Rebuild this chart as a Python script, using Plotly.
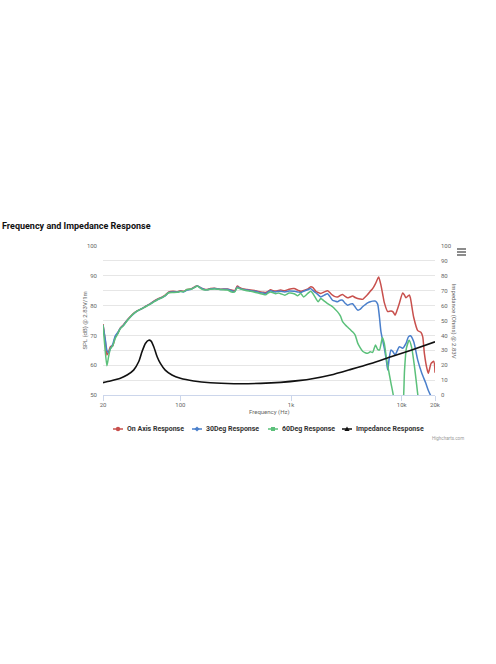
import plotly.graph_objects as go

# ---------------- data ----------------
on_freq = [20, 21, 21.7, 22.5, 23.3, 24.5, 25.8, 27, 28.7, 30.5, 33, 35, 37.8, 41, 45, 49, 53.6, 58, 63.8, 68,
           73, 78.6, 86, 93.6, 100, 107, 115, 125, 135, 142, 152, 162, 175, 187, 205, 230, 266, 290, 310, 327,
           345, 363, 400, 432, 480, 532, 560, 590, 620, 655, 690, 727, 770, 807, 880, 960, 1066, 1150, 1224, 1300,
           1409, 1509, 1580, 1675, 1760, 1858, 2000, 2138, 2250, 2372, 2500, 2636, 2780, 2924, 3080, 3244, 3420,
           3598, 3800, 3998, 4200, 4436, 4680, 4920, 5200, 5466, 5800, 6066, 6200, 6500, 6800, 6966, 7470, 8000,
           8350, 8710, 9100, 9520, 10212, 10600, 10940, 11720, 12000, 12850, 13970, 14960, 15500, 16030, 17000,
           17420, 18440, 19500, 20000]
on_spl = [73.8, 68, 63.4, 64.5, 66.2, 66.5, 69.5, 70.5, 72.5, 73.5, 75.1, 76.2, 77.4, 78.3, 79.0, 79.9, 80.7, 81.6,
          82.4, 82.8, 83.5, 84.6, 84.8, 84.6, 85.0, 84.8, 85.4, 85.6, 86.3, 86.7, 86.0, 85.6, 85.4, 85.7, 85.8,
          85.5, 85.6, 85.2, 85.0, 86.6, 86.0, 85.7, 85.4, 85.2, 85.0, 84.6, 84.5, 84.4, 84.8, 85.3, 85.0, 84.9,
          85.1, 85.2, 85.0, 85.5, 85.7, 85.2, 84.8, 85.1, 85.5, 86.3, 86.0, 84.8, 84.4, 84.1, 84.6, 85.0, 84.3,
          83.5, 83.0, 82.9, 83.4, 83.7, 83.1, 82.6, 82.9, 83.2, 82.7, 82.4, 82.2, 82.1, 82.9, 83.7, 84.8, 85.7,
          87.4, 89.0, 89.6, 86.8, 83.0, 81.0, 78.0, 78.2, 77.9, 76.8, 78.5, 80.7, 84.2, 83.5, 82.6, 83.6, 82.5,
          76.0, 71.6, 71.0, 69.5, 64.0, 58.5, 57.3, 60.6, 61.3, 57.5]

d30_freq = [20, 21, 21.7, 22.5, 23.3, 24.5, 25.8, 27, 28.7, 30.5, 33, 35, 37.8, 41, 45, 49, 53.6, 58, 63.8, 68,
            73, 78.6, 86, 93.6, 100, 107, 115, 125, 135, 142, 152, 162, 175, 187, 205, 230, 266, 290, 310, 327,
            345, 363, 400, 432, 480, 532, 560, 590, 620, 655, 690, 727, 770, 807, 880, 960, 1066, 1150, 1224, 1300,
            1409, 1509, 1580, 1675, 1760, 1858, 2000, 2138, 2250, 2372, 2500, 2636, 2780, 2924, 3080, 3244, 3420,
            3598, 3800, 3998, 4200, 4436, 4680, 4920, 5200, 5466, 5800, 6066, 6300, 6500, 6966, 7300, 7470, 7700,
            8000, 8350, 8710, 9100, 9520, 10212, 10940, 11500, 12000, 12850, 13970, 15200, 16500, 17420, 18440,
            20000]
d30_spl = [73.5, 68.5, 65, 64.2, 65.5, 67, 69.8, 70.8, 72.4, 73.3, 75.0, 76.0, 77.2, 78.2, 79.0, 79.8, 80.6, 81.4,
           82.2, 82.7, 83.3, 84.4, 84.6, 84.5, 84.8, 84.6, 85.2, 85.5, 86.2, 86.6, 86.0, 85.5, 85.3, 85.6, 85.7,
           85.4, 85.5, 85.0, 84.7, 86.2, 85.8, 85.5, 85.2, 85.0, 84.8, 84.3, 84.2, 84.0, 84.6, 85.0, 84.7, 84.6,
           84.8, 84.8, 84.6, 84.9, 84.8, 84.6, 84.4, 84.8, 85.3, 85.7, 85.0, 84.3, 83.6, 82.9, 83.5, 84.0, 83.0,
           81.8, 81.5, 81.3, 81.8, 81.8, 80.8, 80.1, 80.5, 80.6, 79.5, 78.5, 78.7, 79.6, 80.3, 80.9, 81.3, 81.5,
           81.5, 80.5, 76.0, 71.2, 65.7, 61.0, 58.4, 62.0, 65.1, 64.5, 63.4, 64.8, 66.2, 65.7, 67.3, 69.5, 69.9,
           67.9, 61.7, 57.3, 54.0, 51.5, 49.5, 47.0]

d60_freq = [20, 20.8, 21.7, 22.5, 23.3, 24.5, 25.8, 27, 28.7, 30.5, 33, 35, 37.8, 41, 45, 49, 53.6, 58, 63.8, 68,
            73, 78.6, 86, 93.6, 100, 107, 115, 125, 135, 142, 152, 162, 175, 187, 205, 230, 266, 290, 310, 327,
            345, 363, 400, 432, 480, 532, 560, 590, 620, 655, 690, 727, 770, 807, 880, 960, 1066, 1150, 1224, 1300,
            1409, 1509, 1580, 1675, 1760, 1858, 2000, 2138, 2300, 2372, 2500, 2636, 2800, 2924, 3100, 3244, 3598,
            3800, 3998, 4200, 4436, 4680, 4920, 5200, 5466, 5800, 6066, 6300, 6700, 6966, 7300, 7700, 8000, 8350,
            8710, 9400, 10200, 10600, 11000, 11700, 12300, 13000, 13500, 14000, 15000, 20000]
d60_spl = [73.5, 66, 59.8, 63, 65.5, 66.5, 69.0, 70.3, 72.3, 73.2, 74.9, 76.0, 77.3, 78.2, 79.0, 79.7, 80.5, 81.3,
           82.2, 82.6, 83.4, 84.3, 84.4, 84.5, 84.7, 84.7, 85.4, 85.5, 86.1, 86.6, 85.8, 85.3, 85.3, 85.5, 85.6,
           85.4, 85.2, 84.6, 84.6, 86.0, 85.6, 85.4, 85.0, 84.8, 84.4, 84.0, 83.8, 83.6, 84.2, 84.6, 84.3, 84.0,
           84.2, 84.0, 83.5, 84.2, 84.0, 83.3, 84.1, 82.9, 84.0, 84.8, 84.0, 82.4, 81.3, 82.4, 81.5, 80.7, 80.0,
           79.6, 78.8, 77.9, 76.5, 74.6, 73.5, 72.8, 71.2, 70.1, 67.5, 66.0, 64.7, 64.2, 64.0, 64.5, 64.3, 66.8,
           65.3, 65.1, 69.3, 67.3, 62.0, 57.3, 54.0, 50.5, 46.0, 42.0, 45.0, 58.0, 65.5, 68.4, 66.0, 60.0, 55.0,
           50.0, 44.0, 42.0]

imp_freq = [20, 23.3, 28.7, 33, 37.8, 42, 45, 48.3, 51.8, 54.4, 57.5, 61.7, 66, 73, 84, 100, 132, 187, 305, 532,
            807, 1224, 1509, 2290, 3476, 5275, 8000, 12140, 20000]
imp_ohm = [8.3, 9.4, 11.2, 13.4, 16.7, 22.3, 29.0, 34.6, 36.8, 36.2, 32.4, 25.7, 21.2, 16.7, 13.4, 11.2, 9.4, 8.2,
           7.6, 7.8, 8.5, 9.8, 10.7, 13.4, 17.2, 21.2, 25.7, 30.1, 35.7]

x_tickvals = [20, 100, 1000, 10000, 20000]
x_ticktext = ["20", "100", "1k", "10k", "20k"]
spl_tickvals = [50, 55, 60, 65, 70, 75, 80, 85, 90, 95, 100]
spl_ticktext = ["50", "", "60", "", "70", "", "80", "", "90", "", "100"]
imp_tickvals = [0, 10, 20, 30, 40, 50, 60, 70, 80, 90, 100]

series_names = ["On Axis Response", "30Deg Response", "60Deg Response", "Impedance Response"]
series_colors = ["#c8504d", "#4a7fcb", "#5bc07a", "#111111"]

# ---------------- figure ----------------
FONT = "Roboto"
W, H = 496, 664
PL, PR, PT, PB = 103, 435, 246, 395          # plot area in page pixels


def px(x):
    return (x - PL) / (PR - PL)


def py(y):
    return (PB - y) / (PB - PT)


fig = go.Figure()
series = [
    (series_names[0], on_freq, on_spl, series_colors[0], "y"),
    (series_names[1], d30_freq, d30_spl, series_colors[1], "y"),
    (series_names[2], d60_freq, d60_spl, series_colors[2], "y"),
    (series_names[3], imp_freq, imp_ohm, series_colors[3], "y2"),
]
for name, fx, fy, col, ax in series:
    fig.add_trace(go.Scatter(
        x=fx, y=fy, name=name, mode="lines", yaxis=ax, showlegend=False,
        line=dict(color=col, width=1.5 if ax == "y" else 1.6, shape="spline", smoothing=0.6),
    ))

fig.update_layout(
    width=W, height=H,
    margin=dict(l=PL, r=W - PR, t=PT, b=H - PB),
    paper_bgcolor="white", plot_bgcolor="white",
    font=dict(family=FONT, color="#666666", size=6),
    title=dict(text="<b>Frequency and Impedance Response</b>", x=2 / W, xanchor="left",
               y=1 - 226 / H, yanchor="middle", font=dict(family=FONT, size=9, color="#111111")),
    xaxis=dict(type="log", range=[1.30103, 4.30103], tickvals=x_tickvals, ticktext=x_ticktext,
               showgrid=False, zeroline=False, showline=True, linecolor="#ccd6eb", linewidth=1,
               ticks="outside", ticklen=5, tickcolor="#ccd6eb", ticklabelstandoff=-1,
               tickfont=dict(size=6, color="#666666")),
    yaxis=dict(range=[50, 100], tickvals=spl_tickvals, ticktext=spl_ticktext, showgrid=True,
               gridcolor="#e6e6e6", gridwidth=1, zeroline=False, showline=False,
               ticklabelstandoff=5, tickfont=dict(size=6, color="#666666")),
    yaxis2=dict(range=[0, 100], tickvals=imp_tickvals, overlaying="y", side="right", showgrid=False,
                zeroline=False, showline=False, ticklabelstandoff=5, tickfont=dict(size=6, color="#666666")),
    showlegend=False,
)

annotations = [
    dict(text="SPL (dB) @ 2.83V/1m", xref="paper", yref="paper", x=px(78), y=0.5,
         textangle=-90, showarrow=False, font=dict(size=6, color="#666666")),
    dict(text="Impedance (Ohms) @ 2.83V", xref="paper", yref="paper", x=px(460), y=0.5,
         textangle=90, showarrow=False, font=dict(size=6, color="#666666")),
    dict(text="Frequency (Hz)", xref="paper", yref="paper", x=0.5, y=py(411.5),
         yanchor="middle", showarrow=False, font=dict(size=6, color="#666666")),
    dict(text="Highcharts.com", xref="paper", yref="paper", x=px(466), xanchor="right",
         y=py(438), yanchor="middle", showarrow=False, font=dict(size=4.5, color="#999999")),
]

shapes = []
# custom legend (Highcharts style: short line + marker + bold label)
leg_y = 429
leg_sym_x = [118, 197, 273, 347]
marker_kinds = ["circle", "diamond", "square", "triangle"]
for name, col, sx, kind in zip(series_names, series_colors, leg_sym_x, marker_kinds):
    shapes.append(dict(type="line", xref="paper", yref="paper", x0=px(sx - 5), x1=px(sx + 5),
                       y0=py(leg_y), y1=py(leg_y), line=dict(color=col, width=1.5)))
    r = 2.2
    if kind == "circle":
        shapes.append(dict(type="circle", xref="paper", yref="paper", x0=px(sx - r), x1=px(sx + r),
                           y0=py(leg_y + r), y1=py(leg_y - r), fillcolor=col, line=dict(width=0)))
    elif kind == "square":
        shapes.append(dict(type="rect", xref="paper", yref="paper", x0=px(sx - 2), x1=px(sx + 2),
                           y0=py(leg_y + 2), y1=py(leg_y - 2), fillcolor=col, line=dict(width=0)))
    else:
        if kind == "diamond":
            pts = [(sx, leg_y - 2.6), (sx + 2.6, leg_y), (sx, leg_y + 2.6), (sx - 2.6, leg_y)]
        else:
            pts = [(sx, leg_y - 2.6), (sx + 2.6, leg_y + 2), (sx - 2.6, leg_y + 2)]
        path = "M " + " L ".join(f"{px(a):.5f},{py(b):.5f}" for a, b in pts) + " Z"
        shapes.append(dict(type="path", xref="paper", yref="paper", path=path,
                           fillcolor=col, line=dict(width=0)))
    annotations.append(dict(text=f"<b>{name}</b>", xref="paper", yref="paper", x=px(sx + 7),
                            xanchor="left", y=py(leg_y), yanchor="middle", showarrow=False,
                            font=dict(size=7, color="#333333")))

# hamburger (export menu) icon
for yy in [249, 252, 255]:
    shapes.append(dict(type="line", xref="paper", yref="paper", x0=px(457), x1=px(466),
                       y0=py(yy), y1=py(yy), line=dict(color="#666666", width=1.5)))

fig.update_layout(annotations=annotations, shapes=shapes)

fig.write_html("out.html", config={"displayModeBar": False},
               post_script="document.body.style.margin='0';document.body.style.padding='0';")
